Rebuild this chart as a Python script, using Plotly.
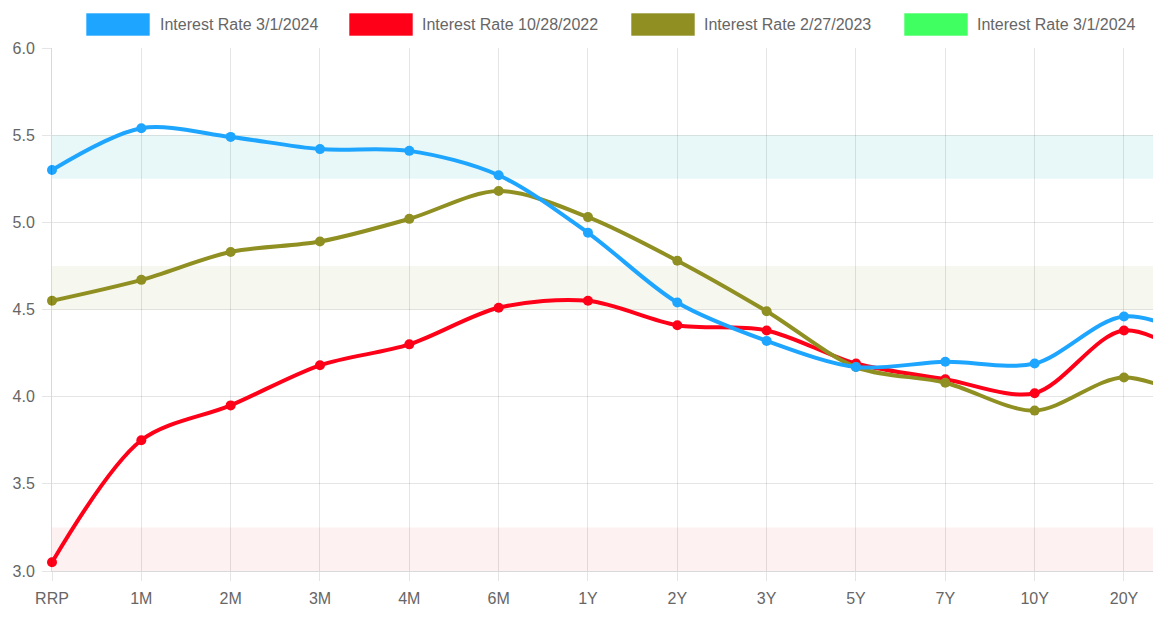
import plotly.graph_objects as go

categories = ["RRP", "1M", "2M", "3M", "4M", "6M", "1Y", "2Y", "3Y", "5Y", "7Y", "10Y", "20Y", "30Y"]
rate_2024 = [5.30, 5.54, 5.49, 5.42, 5.41, 5.27, 4.94, 4.54, 4.32, 4.17, 4.20, 4.19, 4.46, 4.30]
rate_2022 = [3.05, 3.75, 3.95, 4.18, 4.30, 4.51, 4.55, 4.41, 4.38, 4.19, 4.10, 4.02, 4.38, 4.14]
rate_2023 = [4.55, 4.67, 4.83, 4.89, 5.02, 5.18, 5.03, 4.78, 4.49, 4.17, 4.08, 3.92, 4.11, 3.93]
series_names = ["Interest Rate 3/1/2024", "Interest Rate 10/28/2022", "Interest Rate 2/27/2023", "Interest Rate 3/1/2024"]
bands = [(5.25, 5.50), (4.50, 4.75), (3.00, 3.25)]
y_ticks = [3.0, 3.5, 4.0, 4.5, 5.0, 5.5, 6.0]

colors = ["#1EA5FF", "#FF0019", "#8F8F22", "#40FF60"]
band_colors = ["rgba(180,232,232,0.30)", "rgba(220,222,190,0.25)", "rgba(250,210,210,0.30)"]
FONT = "Liberation Sans"

x = list(range(len(categories)))
fig = go.Figure()

for (lo, hi), bc in zip(bands, band_colors):
    fig.add_shape(type="rect", xref="paper", yref="y", x0=0, x1=1, y0=lo, y1=hi,
                  fillcolor=bc, line_width=0, layer="below")

for vals, col, name in zip([rate_2022, rate_2023, rate_2024], [colors[1], colors[2], colors[0]],
                           [series_names[1], series_names[2], series_names[0]]):
    fig.add_trace(go.Scatter(
        x=x, y=vals, mode="lines+markers", name=name,
        line=dict(color=col, width=4, shape="spline", smoothing=0.9),
        marker=dict(color=col, size=10),
        cliponaxis=False, showlegend=False,
    ))

# manual legend
legend_pos = [(86, 158), (349, 420), (631, 702), (904, 975)]
W, H = 1153, 618
L, R, T, B = 52, 0, 48, 47
pw, ph = W - L - R, H - T - B
for (bx, tx), col, name in zip(legend_pos, colors, series_names):
    fig.add_shape(type="rect", xref="paper", yref="paper",
                  x0=(bx - L) / pw, x1=(bx + 64 - L) / pw,
                  y0=(H - B - 36) / ph, y1=(H - B - 13) / ph,
                  fillcolor=col, line=dict(color="rgba(255,255,255,0.6)", width=1))
    fig.add_annotation(xref="paper", yref="paper",
                       x=(tx - L) / pw, y=(H - B - 24.5) / ph,
                       text=name, showarrow=False, xanchor="left", yanchor="middle",
                       font=dict(family=FONT, size=16, color="#666666"))

axis_common = dict(
    showgrid=True, gridcolor="rgba(0,0,0,0.1)", gridwidth=1,
    ticks="outside", ticklen=9, tickcolor="rgba(0,0,0,0.1)",
    showline=True, linecolor="rgba(0,0,0,0.15)", linewidth=1,
    zeroline=False, tickfont=dict(family=FONT, size=16, color="#666666"),
    automargin=False, ticklabelstandoff=4,
)

fig.update_layout(
    width=W, height=H,
    margin=dict(l=L, r=R, t=T, b=B, autoexpand=False),
    plot_bgcolor="white", paper_bgcolor="white",
    showlegend=False,
    font=dict(family=FONT, size=16, color="#666666"),
    xaxis=dict(range=[0, 12.325], tickmode="array", tickvals=x, ticktext=categories,
               **axis_common),
    yaxis=dict(range=[3.0, 6.0], tickmode="array", tickvals=y_ticks,
               ticktext=[f"{v:.1f}" for v in y_ticks], **axis_common),
)

fig.write_html("out.html", config={"displayModeBar": False},
               post_script="document.body.style.margin='0';document.body.style.overflow='hidden';")
